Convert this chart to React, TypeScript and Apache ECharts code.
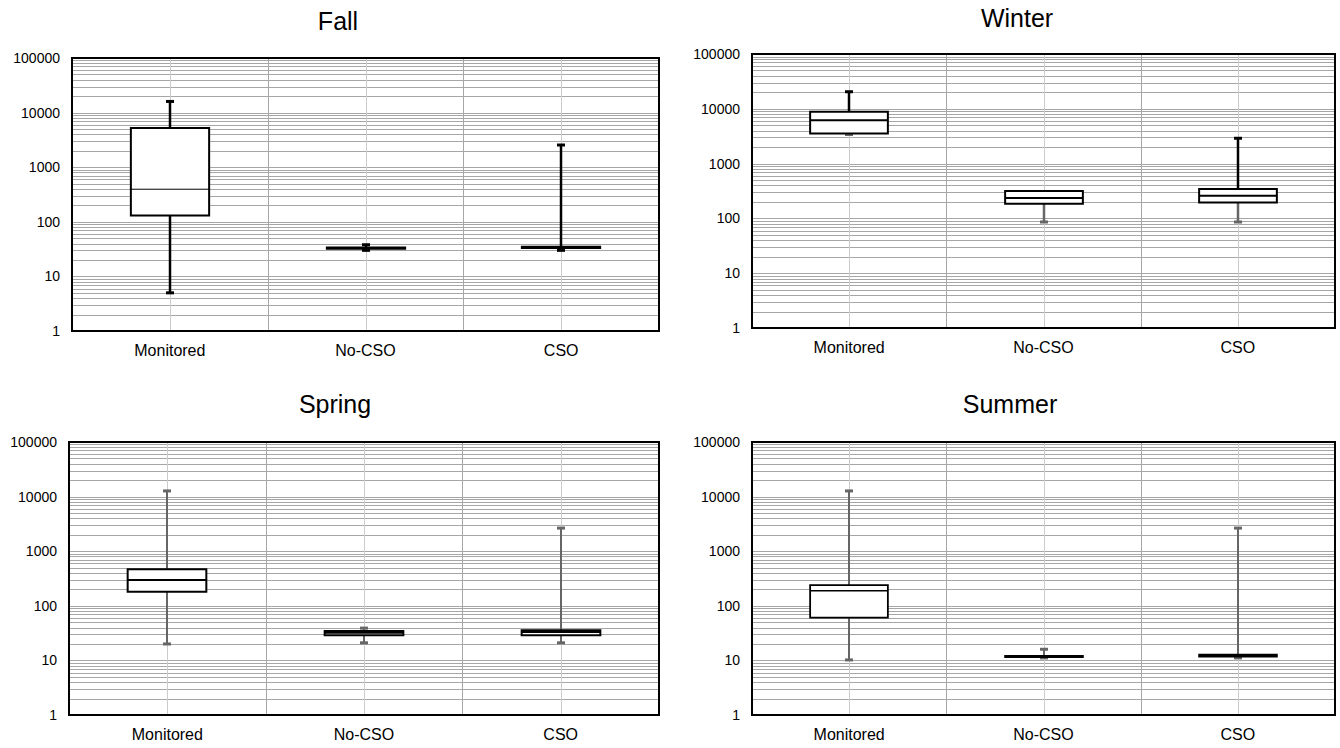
import React, { useEffect, useRef } from 'react';
import * as echarts from 'echarts';

const categories = ['Monitored', 'No-CSO', 'CSO'];

// five-number summaries: [min, Q1, median, Q3, max]
const fallBoxes = [
  [5, 130, 395, 5200, 16000],
  [30, 32, 33, 34, 38],
  [30, 33, 34, 35, 2550],
];
const winterBoxes = [
  [3400, 3550, 6200, 8800, 20500],
  [86, 186, 236, 316, 316],
  [86, 196, 260, 344, 2900],
];
const springBoxes = [
  [20, 180, 297, 466, 12700],
  [21, 29, 32, 34.5, 39],
  [21, 29, 33, 35.6, 2650],
];
const summerBoxes = [
  [10.2, 60.6, 189, 240, 12700],
  [11.1, 11.5, 11.8, 12.1, 16],
  [11.1, 11.7, 12.2, 12.8, 2650],
];

const majorGridValues = [10, 100, 1000, 10000];
const minorGridValues = [
  2, 3, 4, 5, 6, 7, 8, 9,
  20, 30, 40, 50, 60, 70, 80, 90,
  200, 300, 400, 500, 600, 700, 800, 900,
  2000, 3000, 4000, 5000, 6000, 7000, 8000, 9000,
  20000, 30000, 40000, 50000, 60000, 70000, 80000, 90000,
];

const FONT = '"Liberation Sans", Arial, sans-serif';

const panels = [
  {
    name: 'Fall', data: fallBoxes,
    grid: { left: 72, top: 58, width: 587, height: 273 },
    titlePos: [338, 21],
    upper: '#000', lower: '#000', whiskerW: 2.5, boxW: 2, medW: 1,
  },
  {
    name: 'Winter', data: winterBoxes,
    grid: { left: 752, top: 54, width: 583, height: 274 },
    titlePos: [1017, 18],
    upper: '#000', lower: '#666', whiskerW: 2.5, boxW: 2, medW: 2,
  },
  {
    name: 'Spring', data: springBoxes,
    grid: { left: 69, top: 442, width: 590, height: 273 },
    titlePos: [335, 404],
    upper: '#666', lower: '#666', whiskerW: 2, boxW: 2, medW: 2,
  },
  {
    name: 'Summer', data: summerBoxes,
    grid: { left: 752, top: 442, width: 583, height: 273 },
    titlePos: [1010, 404],
    upper: '#666', lower: '#666', whiskerW: 2, boxW: 1.8, medW: 1.5,
  },
];

export default function App() {
  const ref = useRef<HTMLDivElement>(null);

  useEffect(() => {
    const chart = echarts.init(ref.current!, null, { renderer: 'svg' });
    const gridValues = [...majorGridValues, ...minorGridValues];

    const series: any[] = [];
    panels.forEach((p, i) => {
      series.push({
        type: 'custom',
        xAxisIndex: i,
        yAxisIndex: i,
        silent: true,
        z: 1,
        data: gridValues.map((v) => [0, v]),
        encode: { x: 0, y: 1 },
        renderItem: (params: any, api: any) => {
          const cs = params.coordSys;
          const y = Math.round(api.coord([0, api.value(1)])[1]) + 0.5;
          return {
            type: 'line',
            shape: { x1: cs.x + 1, y1: y, x2: cs.x + cs.width - 1, y2: y },
            style: { stroke: '#a6a6a6', lineWidth: 1 },
          };
        },
      });
      series.push({
        type: 'custom',
        xAxisIndex: i,
        yAxisIndex: i,
        silent: true,
        z: 1,
        data: categories.map((_, k) => [k, 1]),
        encode: { x: 0, y: 1 },
        renderItem: (params: any, api: any) => {
          const cs = params.coordSys;
          const k = api.value(0);
          const cx = Math.round(api.coord([k, 1])[0]) + 0.5;
          const children: any[] = [
            {
              type: 'line',
              shape: { x1: cx, y1: cs.y + 1, x2: cx, y2: cs.y + cs.height - 1 },
              style: { stroke: '#cccccc', lineWidth: 1 },
            },
          ];
          if (k < categories.length - 1) {
            const bx = Math.round(cs.x + (cs.width / categories.length) * (k + 1)) + 0.5;
            children.push({
              type: 'line',
              shape: { x1: bx, y1: cs.y + 1, x2: bx, y2: cs.y + cs.height - 1 },
              style: { stroke: '#a6a6a6', lineWidth: 1 },
            });
          }
          return { type: 'group', children };
        },
      });
      series.push({
        type: 'custom',
        name: p.name,
        xAxisIndex: i,
        yAxisIndex: i,
        z: 3,
        data: p.data.map((b, k) => [k, ...b]),
        encode: { x: 0, y: [1, 2, 3, 4, 5] },
        renderItem: (params: any, api: any) => {
          const cs = params.coordSys;
          const k = api.value(0);
          const pts = [1, 2, 3, 4, 5].map((d) => api.coord([k, api.value(d)]));
          const cx = Math.round(pts[0][0]);
          const yMin = pts[0][1];
          const yQ1 = pts[1][1];
          const yMed = pts[2][1];
          const yQ3 = pts[3][1];
          const yMax = pts[4][1];
          const half = (cs.width / categories.length) * 0.2;
          const cap = 4;
          const children: any[] = [];
          if (yQ3 - yMax > 1) {
            children.push({
              type: 'line',
              shape: { x1: cx, y1: yQ3, x2: cx, y2: yMax },
              style: { stroke: p.upper, lineWidth: p.whiskerW },
            });
            children.push({
              type: 'line',
              shape: { x1: cx - cap, y1: yMax, x2: cx + cap, y2: yMax },
              style: { stroke: p.upper, lineWidth: 3 },
            });
          }
          if (yMin - yQ1 > 0.5) {
            children.push({
              type: 'line',
              shape: { x1: cx, y1: yQ1, x2: cx, y2: yMin },
              style: { stroke: p.lower, lineWidth: p.whiskerW },
            });
            children.push({
              type: 'line',
              shape: { x1: cx - cap, y1: yMin, x2: cx + cap, y2: yMin },
              style: { stroke: p.lower, lineWidth: 3 },
            });
          }
          children.push({
            type: 'rect',
            shape: { x: cx - half, y: yQ3, width: half * 2, height: Math.max(yQ1 - yQ3, 0.5) },
            style: { fill: '#fff', stroke: '#000', lineWidth: p.boxW },
          });
          children.push({
            type: 'line',
            shape: { x1: cx - half, y1: yMed, x2: cx + half, y2: yMed },
            style: { stroke: '#000', lineWidth: p.medW },
          });
          return { type: 'group', children };
        },
      });
    });

    const option: any = {
      animation: false,
      backgroundColor: '#fff',
      graphic: panels.map((p) => ({
        type: 'text',
        x: p.titlePos[0],
        y: p.titlePos[1],
        style: {
          text: p.name,
          font: `25px ${FONT}`,
          fill: '#000',
          align: 'center',
          verticalAlign: 'middle',
          textAlign: 'center',
          textVerticalAlign: 'middle',
        },
      })),
      grid: panels.map((p) => ({
        ...p.grid,
        show: true,
        borderColor: '#000',
        borderWidth: 2,
        backgroundColor: 'transparent',
      })),
      xAxis: panels.map((_, i) => ({
        type: 'category',
        gridIndex: i,
        data: categories,
        boundaryGap: true,
        axisLine: { show: false },
        axisTick: { show: false },
        splitLine: { show: false },
        axisLabel: { color: '#000', fontSize: 16, fontFamily: FONT, margin: 11 },
      })),
      yAxis: panels.map((_, i) => ({
        type: 'log',
        logBase: 10,
        gridIndex: i,
        min: 1,
        max: 100000,
        axisLine: { show: false },
        axisTick: { show: false },
        splitLine: { show: false },
        axisLabel: {
          color: '#000',
          fontSize: 14,
          fontFamily: FONT,
          margin: 12,
          formatter: (v: number) => String(Math.round(v)),
        },
      })),
      series,
    };

    chart.setOption(option);
    return () => chart.dispose();
  }, []);

  return (
    <div
      ref={ref}
      style={{ position: 'absolute', left: 0, top: 0, width: 1340, height: 748, background: '#fff' }}
    />
  );
}
